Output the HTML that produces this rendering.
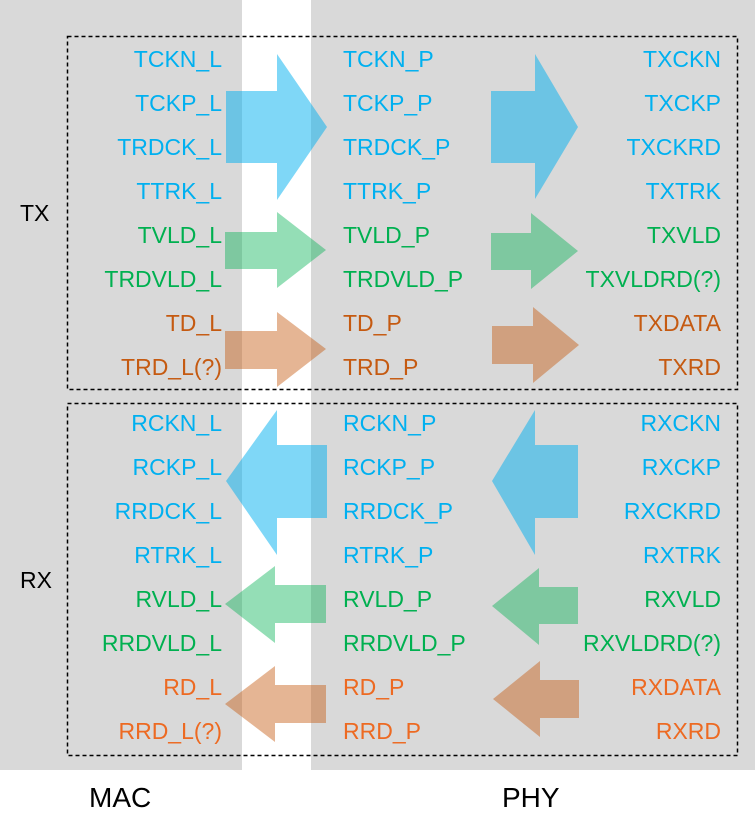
<!DOCTYPE html>
<html><head><meta charset="utf-8"><style>
html,body{margin:0;padding:0;background:#fff;}
svg{display:block;}
text{font-family:"Liberation Sans",Arial,sans-serif;font-size:23px;}
.b{fill:#00b0f0}.g{fill:#00b050}.o{fill:#c55a11}.r{fill:#ed6a22}
.L{text-anchor:end}
</style></head><body>
<svg width="755" height="832" viewBox="0 0 755 832" xmlns="http://www.w3.org/2000/svg">
<rect x="0" y="0" width="242" height="770" fill="#d9d9d9"/>
<rect x="311" y="0" width="444" height="770" fill="#d9d9d9"/>
<rect x="67.5" y="36.5" width="670" height="353" fill="none" stroke="#000" stroke-width="1.5" stroke-dasharray="4,3"/>
<rect x="67.5" y="403.5" width="670" height="352" fill="none" stroke="#000" stroke-width="1.5" stroke-dasharray="4,3"/>

<polygon points="226,91 277,91 277,54 327,127 277,200 277,163 226,163" fill="#00b0f0" fill-opacity="0.5"/>
<polygon points="491,91 535,91 535,54 578,127 535,199 535,163 491,163" fill="#00b0f0" fill-opacity="0.5"/>
<polygon points="225,232 277,232 277,212 326,250 277,288 277,269 225,269" fill="#00b050" fill-opacity="0.42"/>
<polygon points="491,233 531,233 531,213 578,251 531,289 531,270 491,270" fill="#00b050" fill-opacity="0.42"/>
<polygon points="225,331 277,331 277,312 326,349 277,387 277,369 225,369" fill="#c55a11" fill-opacity="0.45"/>
<polygon points="492,326 533,326 533,307 579,345 533,383 533,364 492,364" fill="#c55a11" fill-opacity="0.45"/>
<polygon points="226,481 277,410 277,445 327,445 327,518 277,518 277,555" fill="#00b0f0" fill-opacity="0.5"/>
<polygon points="492,481 535,410 535,445 578,445 578,518 535,518 535,555" fill="#00b0f0" fill-opacity="0.5"/>
<polygon points="225,604 275,566 275,585 326,585 326,623 275,623 275,643" fill="#00b050" fill-opacity="0.42"/>
<polygon points="492,606 539,568 539,587 578,587 578,624 539,624 539,645" fill="#00b050" fill-opacity="0.42"/>
<polygon points="225,704 275,666 275,685 326,685 326,723 275,723 275,742" fill="#c55a11" fill-opacity="0.45"/>
<polygon points="493,699 540,661 540,680 579,680 579,718 540,718 540,737" fill="#c55a11" fill-opacity="0.45"/>

<text x="20" y="221">TX</text>
<text x="20" y="588">RX</text>
<text x="89" y="807" style="font-size:28px">MAC</text>
<text x="502" y="807" style="font-size:28px">PHY</text>

<text class="L b" x="222" y="67">TCKN_L</text>
<text class="L b" x="222" y="111">TCKP_L</text>
<text class="L b" x="222" y="155">TRDCK_L</text>
<text class="L b" x="222" y="199">TTRK_L</text>
<text class="L g" x="222" y="243">TVLD_L</text>
<text class="L g" x="222" y="287">TRDVLD_L</text>
<text class="L o" x="222" y="331">TD_L</text>
<text class="L o" x="222" y="375">TRD_L(?)</text>
<text class="b" x="343" y="67">TCKN_P</text>
<text class="b" x="343" y="111">TCKP_P</text>
<text class="b" x="343" y="155">TRDCK_P</text>
<text class="b" x="343" y="199">TTRK_P</text>
<text class="g" x="343" y="243">TVLD_P</text>
<text class="g" x="343" y="287">TRDVLD_P</text>
<text class="o" x="343" y="331">TD_P</text>
<text class="o" x="343" y="375">TRD_P</text>
<text class="L b" x="721" y="67">TXCKN</text>
<text class="L b" x="721" y="111">TXCKP</text>
<text class="L b" x="721" y="155">TXCKRD</text>
<text class="L b" x="721" y="199">TXTRK</text>
<text class="L g" x="721" y="243">TXVLD</text>
<text class="L g" x="721" y="287">TXVLDRD(?)</text>
<text class="L o" x="721" y="331">TXDATA</text>
<text class="L o" x="721" y="375">TXRD</text>
<text class="L b" x="222" y="431">RCKN_L</text>
<text class="L b" x="222" y="475">RCKP_L</text>
<text class="L b" x="222" y="519">RRDCK_L</text>
<text class="L b" x="222" y="563">RTRK_L</text>
<text class="L g" x="222" y="607">RVLD_L</text>
<text class="L g" x="222" y="651">RRDVLD_L</text>
<text class="L r" x="222" y="695">RD_L</text>
<text class="L r" x="222" y="739">RRD_L(?)</text>
<text class="b" x="343" y="431">RCKN_P</text>
<text class="b" x="343" y="475">RCKP_P</text>
<text class="b" x="343" y="519">RRDCK_P</text>
<text class="b" x="343" y="563">RTRK_P</text>
<text class="g" x="343" y="607">RVLD_P</text>
<text class="g" x="343" y="651">RRDVLD_P</text>
<text class="r" x="343" y="695">RD_P</text>
<text class="r" x="343" y="739">RRD_P</text>
<text class="L b" x="721" y="431">RXCKN</text>
<text class="L b" x="721" y="475">RXCKP</text>
<text class="L b" x="721" y="519">RXCKRD</text>
<text class="L b" x="721" y="563">RXTRK</text>
<text class="L g" x="721" y="607">RXVLD</text>
<text class="L g" x="721" y="651">RXVLDRD(?)</text>
<text class="L r" x="721" y="695">RXDATA</text>
<text class="L r" x="721" y="739">RXRD</text>
</svg>
</body></html>
